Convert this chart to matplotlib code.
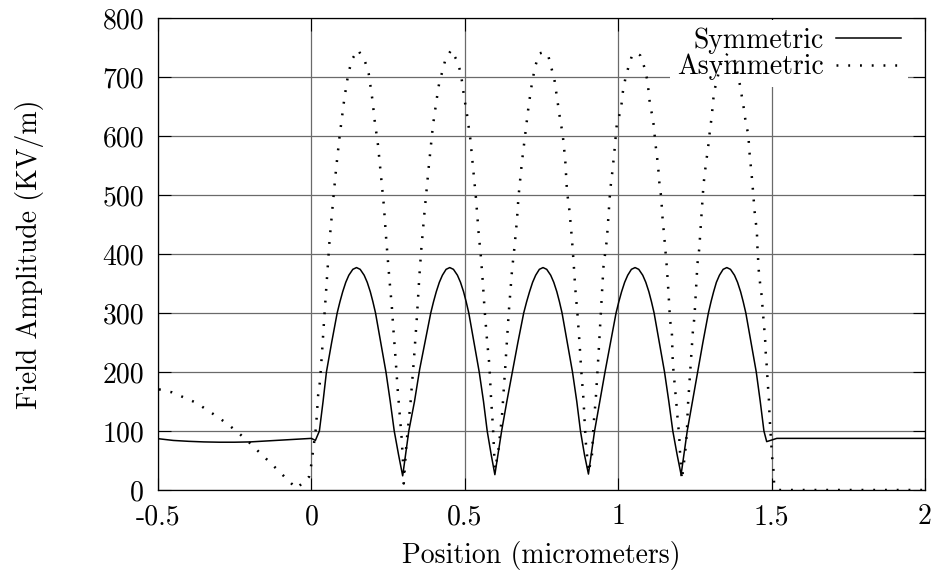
import matplotlib
matplotlib.use("Agg")
import matplotlib.pyplot as plt

plt.rcParams['font.family'] = ['cmr10', 'DejaVu Serif']
plt.rcParams['font.size'] = 20

# values
sym_x = [-0.5, -0.45, -0.4, -0.35, -0.3, -0.25, -0.2, -0.15, -0.1, -0.05, 0.0, 0.013,
         0.026, 0.038, 0.049, 0.066,
         0.084, 0.093, 0.102, 0.112, 0.122, 0.135, 0.147, 0.159, 0.172, 0.182, 0.192, 0.2005, 0.209,
         0.226, 0.243, 0.257, 0.270, 0.284, 0.2975,
         0.3175, 0.336, 0.353, 0.370,
         0.389, 0.398, 0.407, 0.417, 0.427, 0.439, 0.451, 0.463, 0.476, 0.486, 0.496, 0.5045, 0.513,
         0.530, 0.547, 0.561, 0.573, 0.586, 0.598,
         0.620, 0.637, 0.655, 0.673,
         0.692, 0.7015, 0.711, 0.721, 0.731, 0.743, 0.755, 0.767, 0.780, 0.790, 0.800, 0.8085, 0.817,
         0.834, 0.851, 0.865, 0.877, 0.890, 0.903,
         0.923, 0.940, 0.957, 0.975,
         0.993, 1.002, 1.011, 1.021, 1.031, 1.043, 1.055, 1.067, 1.080, 1.090, 1.100, 1.1085, 1.117,
         1.134, 1.151, 1.165, 1.178, 1.192, 1.205,
         1.225, 1.242, 1.259, 1.276,
         1.294, 1.3025, 1.311, 1.320, 1.330, 1.342, 1.354, 1.366, 1.379, 1.389, 1.399, 1.4075, 1.416,
         1.433, 1.450, 1.463, 1.475, 1.484, 1.517, 2.0]
sym_y = [87, 84, 82.5, 81.5, 81, 81, 81.5, 83, 84.5, 86, 87.5, 84,
         100, 150, 200, 250,
         300, 319, 336, 352, 364, 374, 377, 374, 364, 352, 336, 319, 300,
         250, 200, 150, 100, 60, 24,
         100, 150, 205, 250,
         300, 319, 336, 352, 364, 374, 377, 374, 364, 352, 336, 319, 300,
         250, 200, 150, 100, 60, 26,
         100, 150, 200, 250,
         300, 319, 336, 352, 364, 374, 377, 374, 364, 352, 336, 319, 300,
         250, 200, 150, 100, 60, 27,
         100, 150, 200, 250,
         300, 319, 336, 352, 364, 374, 377, 374, 364, 352, 336, 319, 300,
         250, 200, 150, 100, 60, 26,
         100, 150, 200, 250,
         300, 319, 336, 352, 364, 374, 377, 374, 364, 352, 336, 319, 300,
         250, 200, 150, 100, 82, 87.5, 87.5]

asym_x = [-0.497, -0.454, -0.416, -0.376, -0.340, -0.303, -0.268, -0.236, -0.203,
          -0.172, -0.141, -0.110, -0.079, -0.049, -0.017, -0.0075, 0.0, 0.0054,
          0.015, 0.022, 0.028, 0.035, 0.041, 0.047, 0.053, 0.059, 0.066, 0.073,
          0.081, 0.092, 0.1075, 0.120, 0.1325, 0.152, 0.175, 0.187, 0.199,
          0.206, 0.217, 0.226, 0.236, 0.244, 0.254, 0.262, 0.268, 0.275, 0.281,
          0.289, 0.294, 0.299, 0.301,
          0.310, 0.3225, 0.334, 0.344, 0.352, 0.358, 0.369, 0.382, 0.396, 0.408,
          0.416, 0.437, 0.456, 0.477, 0.4876, 0.4973, 0.507, 0.518, 0.5266,
          0.5365, 0.545, 0.5527, 0.559, 0.5646, 0.572, 0.580, 0.5853, 0.592,
          0.596, 0.599,
          0.610, 0.621, 0.632, 0.643, 0.654, 0.662, 0.670, 0.675, 0.686, 0.698,
          0.708, 0.719, 0.7296, 0.7437, 0.757, 0.771, 0.7818, 0.7915, 0.8002,
          0.811, 0.8187, 0.8274, 0.833, 0.8415, 0.849, 0.8545, 0.860, 0.8675,
          0.874, 0.8795, 0.887, 0.890, 0.8947, 0.901, 0.903,
          0.914, 0.9196, 0.927, 0.9306, 0.936, 0.9414, 0.947, 0.952, 0.963,
          0.968, 0.974, 0.9815, 0.988, 0.9957, 1.0087, 1.0153, 1.0228, 1.0336,
          1.0466, 1.059, 1.0717, 1.0857, 1.0955, 1.104, 1.112, 1.117, 1.1205,
          1.126, 1.131, 1.1345, 1.140, 1.1444, 1.151, 1.1586, 1.164, 1.169,
          1.175, 1.178, 1.1857, 1.191, 1.1944, 1.1987, 1.202, 1.2075,
          1.218, 1.2238, 1.227, 1.231, 1.2368, 1.2433, 1.2486, 1.254, 1.2584,
          1.264, 1.2693, 1.2726, 1.278, 1.2834, 1.289, 1.294, 1.2997, 1.305,
          1.3085, 1.3127, 1.338, 1.358, 1.381, 1.397, 1.405, 1.410, 1.416,
          1.4245, 1.4267, 1.432, 1.4355, 1.441, 1.444, 1.452, 1.4538, 1.458,
          1.4625, 1.468, 1.471, 1.4756, 1.479, 1.481, 1.4843, 1.4875, 1.491,
          1.493, 1.495, 1.498, 1.5016, 1.506, 1.5081, 1.52, 2.0]
asym_y = [170.6, 165.5, 157, 148, 135.6, 123, 109.6, 96, 80.8,
          65, 49.7, 34, 18, 2.8, 17, 22.6, 44, 66.7,
          106, 161, 184, 236, 285, 330, 377, 422, 463, 503,
          547, 600, 664, 705, 730, 746, 726, 705, 661,
          627, 585, 537, 483, 424, 359, 312, 267, 218, 172,
          120, 89, 44, 11,
          80, 144, 220, 294, 363, 407, 473, 545, 617, 661,
          688, 730, 746, 725, 704.5, 668, 637, 595, 548,
          494, 436, 394, 350, 305, 257, 212, 158, 104.5,
          59, 35,
          70, 124, 209, 299, 373, 412, 457.6, 497, 555, 607,
          651, 690, 718.6, 740, 742, 738.4, 716, 697.7, 666.7,
          627, 604.5, 559, 507, 471.8, 426.6, 387, 342, 296.6,
          248.6, 203, 152.5, 121.5, 79, 45, 30,
          56, 110, 155, 186, 231.6, 282.5, 333, 378.5, 424,
          463, 508.5, 542, 576, 621.5, 644, 675, 696, 717.5,
          739, 740, 736.7, 716, 693, 651, 633, 613, 590,
          568, 542, 518.6, 497, 462, 424, 377, 334, 288,
          265.6, 214.7, 169.5, 138.4, 115.8, 93, 59, 17,
          62, 96, 141, 172, 217.5, 268, 294, 344.6, 384,
          408, 449, 474.6, 517, 542, 565, 585, 613, 633,
          655, 675, 730, 740, 726, 686, 661, 645, 621.5,
          601.7, 579, 551, 531, 497, 474.6, 438, 412, 373,
          350, 327.7, 305, 277, 254, 231.6, 209, 181, 155,
          130, 110, 85, 56.5, 34, 11, 0, 0]

x_ticks = [-0.5, 0, 0.5, 1, 1.5, 2]
x_tick_labels = ['-0.5', '0', '0.5', '1', '1.5', '2']
y_ticks = [0, 100, 200, 300, 400, 500, 600, 700, 800]

fig = plt.figure(figsize=(9.36, 5.71), dpi=100)
ax = fig.add_axes([158 / 936, 1 - 490 / 571, 767 / 936, 472 / 571])

ax.plot(sym_x, sym_y, color='black', lw=1.1, label='Symmetric', zorder=2)
ax.plot(asym_x, asym_y, color='black', lw=1.8, linestyle=(0, (0.75, 3.95)),
        label='Asymmetric', zorder=2)

ax.set_xlim(-0.5, 2)
ax.set_ylim(0, 800)
ax.set_xticks(x_ticks, labels=x_tick_labels)
ax.set_yticks(y_ticks)
ax.set_axisbelow(True)
ax.grid(True, color='#6a6a6a', lw=0.9)
ax.tick_params(direction='in', length=9, width=0.8, top=True, right=True,
               pad=10, labelsize=20)
for s in ax.spines.values():
    s.set_linewidth(0.9)

ax.set_xlabel('Position (micrometers)', labelpad=8)
ax.set_ylabel('Field Amplitude (KV/m)', labelpad=42)

leg = ax.legend(loc='upper right', bbox_to_anchor=(0.978, 0.995), markerfirst=False,
                frameon=True, fancybox=False, edgecolor='none', facecolor='white',
                framealpha=1, handlelength=2.35, handletextpad=0.45,
                labelspacing=0.0, borderpad=0.25, borderaxespad=0, fontsize=20)
leg.set_zorder(1)
for t in leg.get_texts():
    t.set_ha('right')

fig.savefig('out.png', dpi=100)
